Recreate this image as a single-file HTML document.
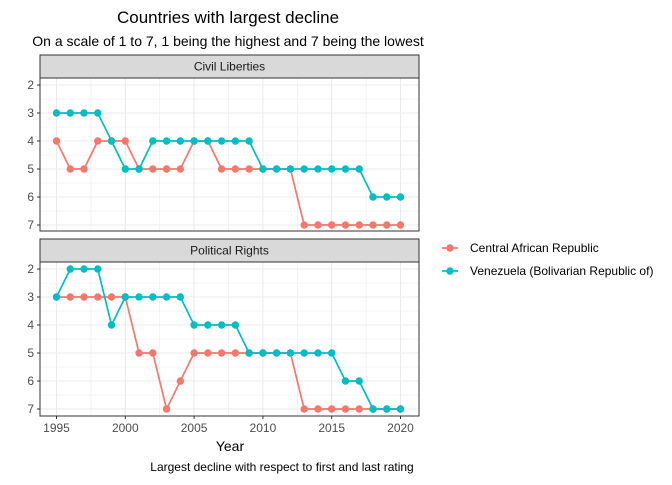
<!DOCTYPE html>
<html><head><meta charset="utf-8"><style>
body{margin:0;background:#fff;font-family:"Liberation Sans",sans-serif}
</style></head><body>
<svg id="c" width="672" height="480" xmlns="http://www.w3.org/2000/svg" font-family="Liberation Sans, sans-serif">
<text x="228" y="23" font-size="17" text-anchor="middle" fill="#000">Countries with largest decline</text>
<text x="228" y="46" font-size="14" text-anchor="middle" fill="#000">On a scale of 1 to 7, 1 being the highest and 7 being the lowest</text>
<text x="230" y="451" font-size="14" text-anchor="middle">Year</text>
<text x="282" y="471" font-size="12" text-anchor="middle">Largest decline with respect to first and last rating</text>
<g>
<g><line x1="442" y1="248" x2="458" y2="248" stroke="#F8766D" stroke-width="1.7"/><circle cx="450" cy="248" r="3.7" fill="#F8766D"/><text x="470" y="252" font-size="12">Central African Republic</text></g>
<g><line x1="442" y1="271" x2="458" y2="271" stroke="#00BFC4" stroke-width="1.7"/><circle cx="450" cy="271" r="3.7" fill="#00BFC4"/><text x="470" y="275" font-size="12">Venezuela (Bolivarian Republic of)</text></g>
</g>
<g id="plots"></g>
</svg>
<script>
const years=[1995,1996,1997,1998,1999,2000,2001,2002,2003,2004,2005,2006,2007,2008,2009,2010,2011,2012,2013,2014,2015,2016,2017,2018,2019,2020];
const clCar=[4,5,5,4,4,4,5,5,5,5,4,4,5,5,5,5,5,5,7,7,7,7,7,7,7,7];
const clVen=[3,3,3,3,4,5,5,4,4,4,4,4,4,4,4,5,5,5,5,5,5,5,5,6,6,6];
const prCar=[3,3,3,3,3,3,5,5,7,6,5,5,5,5,5,5,5,5,7,7,7,7,7,7,7,7];
const prVen=[3,2,2,2,4,3,3,3,3,3,4,4,4,4,5,5,5,5,5,5,5,6,6,7,7,7];
const yTicks=[2,3,4,5,6,7];
const xTicks=[1995,2000,2005,2010,2015,2020];
const NS="http://www.w3.org/2000/svg";
const g=document.getElementById('plots');
const L=40,R=419;
const x=v=>56.5+(v-1995)*13.76;
function mk(t,a,p){const e=document.createElementNS(NS,t);for(const k in a)e.setAttribute(k,a[k]);(p||g).appendChild(e);return e;}
function panel(name,stripTop,top,bottom,car,ven,showX){
  const y=v=>top+7+(v-2)*28;
  const pg=mk('g',{});
  
  
  const s=mk('rect',{x:L,y:stripTop,width:R-L,height:top-stripTop,fill:'#d9d9d9',stroke:'#333','stroke-width':1},pg);
  
  
  const st=mk('text',{x:(L+R)/2,y:(stripTop+top)/2+4,'font-size':12,'text-anchor':'middle',fill:'#1a1a1a'},pg);st.textContent=name;
  
  
  for(let v=2;v<=7;v+=0.5){mk('line',{x1:L,x2:R,y1:y(v),y2:y(v),stroke:'#ebebeb','stroke-width':Number.isInteger(v)?1.1:0.6},pg);}
  for(let v=1992.5;v<=2022.5;v+=2.5){if(x(v)<L||x(v)>R)continue;mk('line',{x1:x(v),x2:x(v),y1:top,y2:bottom,stroke:'#ebebeb','stroke-width':v%5===0?1.1:0.6},pg);}
  yTicks.forEach(v=>{mk('line',{x1:L-3,x2:L,y1:y(v),y2:y(v),stroke:'#333'},pg);const t=mk('text',{x:L-6,y:y(v)+4,'font-size':12,'text-anchor':'end',fill:'#4d4d4d'},pg);t.textContent=v;
    
    });
  if(showX)xTicks.forEach(v=>{mk('line',{x1:x(v),x2:x(v),y1:bottom,y2:bottom+3,stroke:'#333'},pg);const t=mk('text',{x:x(v),y:bottom+16,'font-size':12,'text-anchor':'middle',fill:'#4d4d4d'},pg);t.textContent=v;
    
    });
  [[car,'#F8766D','car'],[ven,'#00BFC4','venezuela']].forEach(([d,c,n])=>{
    const sg=mk('g',{},pg);
    
    
    mk('polyline',{points:d.map((v,i)=>x(years[i])+','+y(v)).join(' '),fill:'none',stroke:c,'stroke-width':1.7},sg);
    d.forEach((v,i)=>{const p=mk('circle',{cx:x(years[i]),cy:y(v),r:3.7,fill:c},sg);
      
      });
  });
  mk('rect',{x:L,y:top,width:R-L,height:bottom-top,fill:'none',stroke:'#333','stroke-width':1},pg);
}
panel('Civil Liberties',55,78,231,clCar,clVen,false);
panel('Political Rights',239,262,416,prCar,prVen,true);
</script>
</body></html>
